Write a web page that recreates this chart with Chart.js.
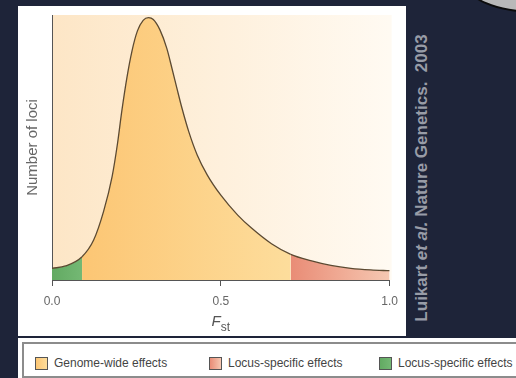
<!DOCTYPE html>
<html>
<head>
<meta charset="utf-8">
<script src="https://cdn.jsdelivr.net/npm/chart.js@4.4.1/dist/chart.umd.min.js"></script>
<style>
  html, body { margin: 0; padding: 0; }
  body {
    width: 516px; height: 378px; position: relative; overflow: hidden;
    background: #1e2439;
    font-family: "Liberation Sans", Arial, sans-serif;
  }
  #panel { position: absolute; left: 18px; top: 6px; width: 388px; height: 330px; background: #fff; }
  #panel canvas { position: absolute; left: 0; top: 0; }
  #credit {
    position: absolute; left: 422px; top: 178px;
    transform: translate(-50%, -50%) rotate(-90deg);
    white-space: nowrap; font-weight: bold; font-size: 17px; color: #989ca7;
  }
  #badge {
    position: absolute; left: 464px; top: -50px; width: 140px; height: 59px;
    border-radius: 50%; background: #b9b9b9; border: 2px solid #0c0c0c;
  }
  #legend-back { position: absolute; left: 18px; top: 338px; width: 498px; height: 40px; background: #fff; }
  #legend {
    position: absolute; left: 22px; top: 342px; width: 520px; height: 36px;
    box-sizing: border-box; border: 2px solid #8c8c8c;
  }
  .item { position: absolute; top: 13px; height: 14px; line-height: 14px; font-size: 12px; color: #444; white-space: nowrap; }
  .swatch { position: absolute; left: 0; top: 0; width: 11px; height: 11px; border: 1px solid #555; }
  .item span { position: absolute; left: 19px; top: -1px; }
</style>
</head>
<body>
<div id="panel"><canvas id="fst-chart" width="388" height="330"></canvas></div>
<div id="credit">Luikart <i>et al.</i> Nature Genetics.&nbsp; 2003</div>
<div id="badge"></div>
<div id="legend-back"></div>
<div id="legend"></div>

<script>
// --- Data ---
var fstValues  = [0, 0.04, 0.089, 0.123, 0.153, 0.178, 0.194, 0.207, 0.222, 0.237, 0.253, 0.27, 0.286, 0.30, 0.32,
                  0.34, 0.355, 0.37, 0.385, 0.405, 0.43, 0.46, 0.50, 0.55, 0.59, 0.65, 0.707, 0.766, 0.826, 0.885, 0.944, 1.0];
var lociCounts = [4.4, 5.3, 8.8, 15, 26, 39, 51.5, 64, 76.5, 86.5, 94, 98, 99, 98.3, 94.3,
                  87.4, 80, 72.3, 64.8, 56, 47.2, 39.6, 32, 24.5, 19.7, 13.7, 9.7, 7.3, 5.5, 4.4, 3.8, 3.5];

var xTickValues = [0, 0.5, 1];
var xTickLabels = ['0.0', '0.5', '1.0'];

var regionLabels = ['Genome-wide effects', 'Locus-specific effects', 'Locus-specific effects'];
var regionStarts = [0.089, 0.707, 0];
var regionEnds   = [0.707, 1.0, 0.089];

// --- Styles ---
var regionColors = [['#fcc674', '#fddd9c'], ['#e98c76', '#f6c8b2'], ['#62aa62', '#74b874']];
var legendX = [11, 185, 355];
var fontFamily = '"Liberation Sans", Arial, sans-serif';

var regionFills = [];

function regionOf(x0, x1) {
  for (var i = 0; i < regionStarts.length; i++) {
    if (x0 >= regionStarts[i] - 1e-9 && x1 <= regionEnds[i] + 1e-9) return i;
  }
  return 0;
}

// Plot background and region gradients
var backgroundPlugin = {
  id: 'plotBackground',
  afterLayout: function(chart) {
    var ctx = chart.ctx, xs = chart.scales.x;
    regionFills = regionColors.map(function(c, i) {
      var g = ctx.createLinearGradient(xs.getPixelForValue(regionStarts[i]), 0, xs.getPixelForValue(regionEnds[i]), 0);
      g.addColorStop(0, c[0]);
      g.addColorStop(1, c[1]);
      return g;
    });
  },
  beforeDraw: function(chart) {
    var a = chart.chartArea, ctx = chart.ctx;
    var g = ctx.createLinearGradient(a.left, 0, a.right, 0);
    g.addColorStop(0, '#fde6c6');
    g.addColorStop(1, '#fffaf2');
    ctx.save();
    ctx.fillStyle = g;
    ctx.fillRect(a.left, a.top, a.right - a.left + 2, a.bottom - a.top);
    ctx.restore();
  }
};

// x axis title with subscript: F_st
var fstTitlePlugin = {
  id: 'fstTitle',
  afterDraw: function(chart) {
    var ctx = chart.ctx;
    var cx = chart.scales.x.getPixelForValue(0.5);
    var base = chart.chartArea.bottom + 46;
    ctx.save();
    ctx.fillStyle = '#555';
    ctx.textBaseline = 'alphabetic';
    ctx.font = 'italic 15px ' + fontFamily;
    var wF = ctx.measureText('F').width;
    ctx.font = '12px ' + fontFamily;
    var wS = ctx.measureText('st').width;
    var x0 = cx - (wF + wS) / 2;
    ctx.font = 'italic 15px ' + fontFamily;
    ctx.fillText('F', x0, base);
    ctx.font = '12px ' + fontFamily;
    ctx.fillText('st', x0 + wF, base + 5);
    ctx.restore();
  }
};

var points = fstValues.map(function(f, i) { return { x: f, y: lociCounts[i] }; });

var fstChart = new Chart(document.getElementById('fst-chart'), {
  type: 'line',
  data: {
    datasets: [{
      data: points,
      fill: 'origin',
      backgroundColor: regionColors[0][0],
      borderColor: '#5c4a32',
      borderWidth: 1.3,
      pointRadius: 0,
      cubicInterpolationMode: 'monotone',
      segment: {
        backgroundColor: function(ctx) {
          var i = regionOf(ctx.p0.parsed.x, ctx.p1.parsed.x);
          return regionFills[i] || regionColors[i][0];
        }
      }
    }]
  },
  options: {
    responsive: false,
    animation: false,
    devicePixelRatio: 1,
    layout: { padding: { left: 6, top: 9, right: 16, bottom: 0 } },
    plugins: { legend: { display: false }, tooltip: { enabled: false } },
    scales: {
      x: {
        type: 'linear', min: 0, max: 1,
        afterFit: function(scale) { scale.height = 56; },
        grid: { drawOnChartArea: false, tickLength: 6, color: '#555' },
        border: { color: '#555', width: 1 },
        ticks: {
          stepSize: 0.5, padding: 8, color: '#666', maxRotation: 0,
          font: { size: 12, family: fontFamily },
          callback: function(v) {
            var k = xTickValues.indexOf(v);
            return k >= 0 ? xTickLabels[k] : '';
          }
        }
      },
      y: {
        min: 0, max: 100,
        afterFit: function(scale) { scale.width = 28; },
        grid: { drawOnChartArea: false, drawTicks: false },
        border: { color: '#555', width: 1 },
        ticks: { display: false },
        title: { display: true, text: 'Number of loci', color: '#666', padding: 0, font: { size: 15, family: fontFamily } }
      }
    }
  },
  plugins: [backgroundPlugin, fstTitlePlugin]
});

// --- HTML legend ---
var legend = document.getElementById('legend');
regionLabels.forEach(function(label, i) {
  var item = document.createElement('div');
  item.className = 'item';
  item.style.left = legendX[i] + 'px';
  var sw = document.createElement('div');
  sw.className = 'swatch';
  sw.style.background = 'linear-gradient(90deg,' + regionColors[i][0] + ',' + regionColors[i][1] + ')';
  var txt = document.createElement('span');
  txt.textContent = label;
  item.appendChild(sw);
  item.appendChild(txt);
  legend.appendChild(item);
});
</script>
</body>
</html>
